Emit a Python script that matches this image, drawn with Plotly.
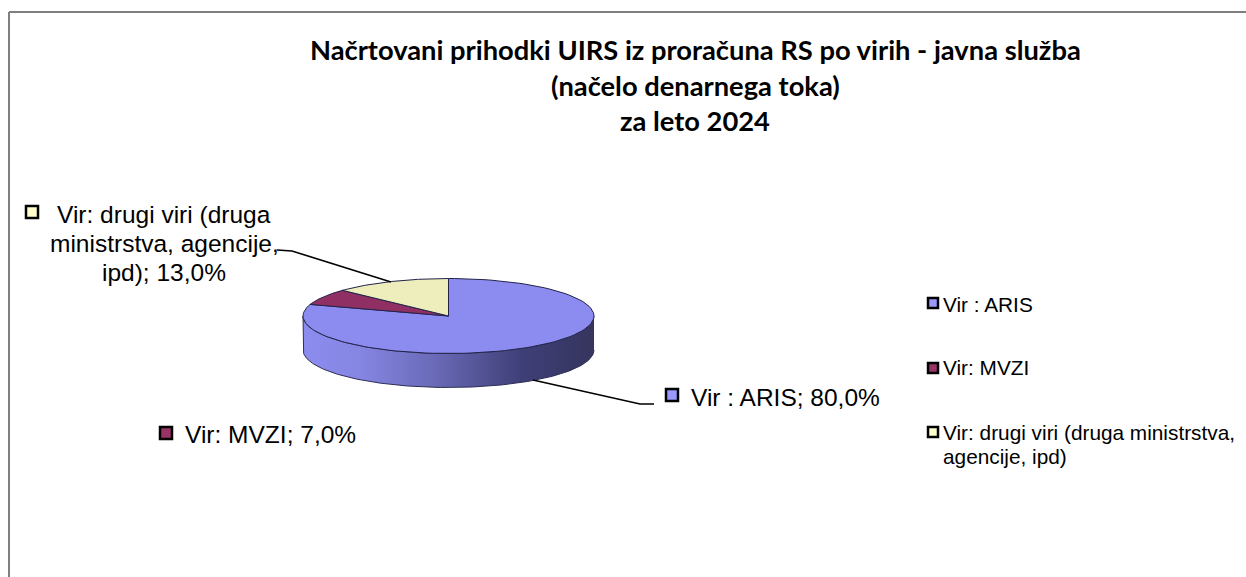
import numpy as np
import plotly.graph_objects as go

TITLE_LINES = ["Načrtovani prihodki UIRS iz proračuna RS po virih - javna služba",
               "(načelo denarnega toka)", "za leto 2024"]
CATEGORIES = ["Vir : ARIS", "Vir: MVZI", "Vir: drugi viri (druga ministrstva, agencije, ipd)"]
VALUES = [80.0, 7.0, 13.0]
COLORS = ["#8C8CF0", "#8F2F63", "#EEEEBC"]
SWATCH = ["#9999FF", "#993366", "#FFFFCC"]
LABEL_ARIS = "Vir : ARIS; 80,0%"
LABEL_MVZI = "Vir: MVZI; 7,0%"
LABEL_DRUGI = ["Vir: drugi viri (druga", "ministrstva, agencije,", "ipd); 13,0%"]
LEGEND_LINES = ["Vir : ARIS", "Vir: MVZI", "Vir: drugi viri (druga ministrstva,", "agencije, ipd)"]

W, H = 1246, 577
CX, CY, RX, RY, DEPTH = 448.5, 316.0, 145.5, 37.5, 34.0
BLACK = "#000000"


def rim(a0, a1, n=120):
    t = np.radians(np.linspace(a0, a1, n))
    return CX + RX * np.sin(t), CY - RY * np.cos(t)


fig = go.Figure()

# side wall
xf, yf = rim(90, 270, 200)
fig.add_trace(go.Scatter(
    x=np.r_[xf, xf[::-1]], y=np.r_[yf, yf[::-1] + DEPTH], mode="lines", fill="toself",
    line=dict(color="#2E2E55", width=1),
    fillgradient=dict(type="horizontal", colorscale=[
        [0, "#8C8CF0"], [0.2, "#8585E2"], [0.45, "#6A6AB8"], [0.75, "#3F3F78"], [1, "#35355E"]]),
    hoverinfo="skip", showlegend=False))

# top slices, clockwise from 12 o'clock
start = 0.0
for cat, val, col in zip(CATEGORIES, VALUES, COLORS):
    end = start + val * 3.6
    xs, ys = rim(start, end)
    fig.add_trace(go.Scatter(
        x=np.r_[CX, xs, CX], y=np.r_[CY, ys, CY], mode="lines", fill="toself",
        fillcolor=col, line=dict(color="#23234A", width=1), name=cat,
        hoverinfo="name", showlegend=False))
    start = end

# leader lines
for lx, ly in [([533, 640, 654], [380, 404, 404]), ([391, 292, 277], [282, 251, 250])]:
    fig.add_trace(go.Scatter(x=lx, y=ly, mode="lines", line=dict(color=BLACK, width=1.6),
                             hoverinfo="skip", showlegend=False))

# key squares, beside data labels and in legend
for sx, sy, size in (([672, 166, 32], [395, 433, 212], 12), ([933, 933, 933], [303, 368, 432], 10)):
    fig.add_trace(go.Scatter(x=sx, y=sy, mode="markers", hoverinfo="skip", showlegend=False,
                             marker=dict(symbol="square", size=size, color=SWATCH,
                                         line=dict(color=BLACK, width=2.5))))

ann = []
for line, y in zip(TITLE_LINES, [49, 85, 120]):
    ann.append(dict(x=695, y=y, text=f"<b>{line}</b>", xanchor="center", yanchor="middle",
                    showarrow=False, font=dict(family="Lato", size=27.3, color=BLACK)))
lab = dict(family="Liberation Sans", size=24.5, color=BLACK)
ann.append(dict(x=689, y=397, text=LABEL_ARIS, xanchor="left", yanchor="middle", showarrow=False, font=lab))
ann.append(dict(x=183, y=434, text=LABEL_MVZI, xanchor="left", yanchor="middle", showarrow=False, font=lab))
for line, y in zip(LABEL_DRUGI, [214, 243, 272]):
    ann.append(dict(x=164, y=y, text=line, xanchor="center", yanchor="middle", showarrow=False, font=lab))
leg = dict(family="Liberation Sans", size=20.8, color=BLACK)
for line, y in zip(LEGEND_LINES, [304, 367, 432, 456]):
    ann.append(dict(x=941, y=y, text=line, xanchor="left", yanchor="middle", showarrow=False, font=leg))

# chart-area frame: top and left edges only
frame = [dict(type="line", x0=9, x1=W, y0=12, y1=12, line=dict(color="#7F7F7F", width=2)),
         dict(type="line", x0=9, x1=9, y0=12, y1=H, line=dict(color="#7F7F7F", width=2))]

fig.update_layout(
    width=W, height=H, margin=dict(l=0, r=0, t=0, b=0), paper_bgcolor="white", plot_bgcolor="white",
    xaxis=dict(range=[0, W], visible=False, fixedrange=True),
    yaxis=dict(range=[H, 0], visible=False, fixedrange=True),
    annotations=ann, shapes=frame, showlegend=False)

fig.write_html("out.html", config=dict(displayModeBar=False),
               post_script="document.body.style.margin='0';document.documentElement.style.overflow='hidden';")
